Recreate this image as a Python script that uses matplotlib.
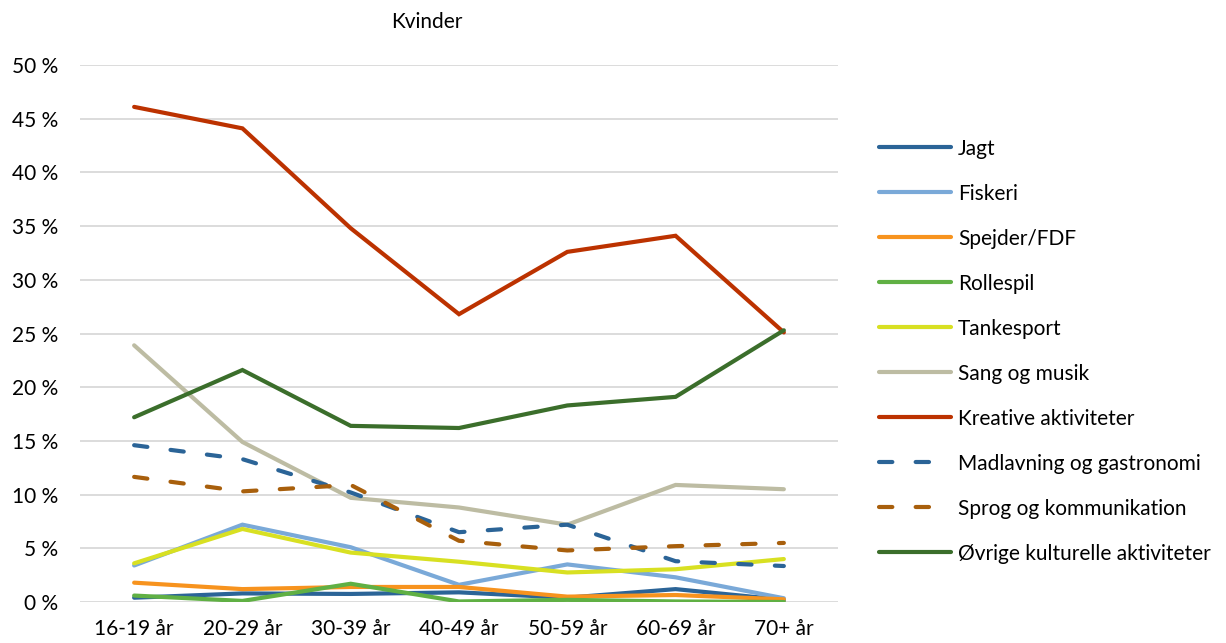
import matplotlib.pyplot as plt
import numpy as np

plt.rcParams['font.family'] = ['Lato', 'DejaVu Sans']

ages = ['16-19 år', '20-29 år', '30-39 år', '40-49 år', '50-59 år', '60-69 år', '70+ år']

jagt = [0.4, 0.8, 0.75, 0.9, 0.4, 1.2, 0.2]
fiskeri = [3.4, 7.2, 5.1, 1.6, 3.5, 2.3, 0.35]
spejder = [1.8, 1.2, 1.4, 1.4, 0.5, 0.65, 0.25]
rollespil = [0.6, 0.1, 1.7, 0.05, 0.2, 0.05, 0.0]
tankesport = [3.6, 6.8, 4.6, 3.75, 2.75, 3.05, 4.0]
sang = [23.9, 14.9, 9.7, 8.8, 7.2, 10.9, 10.5]
kreative = [46.1, 44.1, 34.8, 26.8, 32.6, 34.1, 25.1]
madlavning = [14.6, 13.3, 10.2, 6.5, 7.2, 3.8, 3.35]
sprog = [11.65, 10.3, 10.9, 5.7, 4.8, 5.2, 5.5]
ovrige = [17.2, 21.6, 16.4, 16.2, 18.3, 19.1, 25.3]

series = [
    ('Jagt', jagt, '#2B6497', '-'),
    ('Fiskeri', fiskeri, '#7AA9D8', '-'),
    ('Spejder/FDF', spejder, '#F7931E', '-'),
    ('Rollespil', rollespil, '#60B044', '-'),
    ('Tankesport', tankesport, '#D8E022', '-'),
    ('Sang og musik', sang, '#BDBCA3', '-'),
    ('Kreative aktiviteter', kreative, '#BC3200', '-'),
    ('Madlavning og gastronomi', madlavning, '#2B6497', '--'),
    ('Sprog og kommunikation', sprog, '#A85F0C', '--'),
    ('Øvrige kulturelle aktiviteter', ovrige, '#3B6E2B', '-'),
]

fig = plt.figure(figsize=(12.26, 6.43), dpi=100)
ax = fig.add_axes([80/1226, 1-602/643, (838-80)/1226, (602-65)/643])

x = np.arange(len(ages))
for i, (name, vals, col, ls) in enumerate(series):
    line, = ax.plot(x, vals, color=col, lw=3.0, label=name, zorder=3+i,
                    solid_capstyle='round', solid_joinstyle='miter')
    if ls == '--':
        line.set_dashes([3.2, 5.6])
        line.set_dash_capstyle('round')

ax.set_xlim(-0.5, 6.5)
ax.set_ylim(0, 50)
ax.set_yticks(np.arange(0, 51, 5))
ax.set_yticklabels([f'{v} %' for v in range(0, 51, 5)])
ax.set_xticks(x)
ax.set_xticklabels(ages)
ax.tick_params(length=0, labelsize=15, colors='#000000')
ax.tick_params(axis='y', pad=16)
ax.tick_params(axis='x', pad=12)
ax.grid(axis='y', color='#D9D9D9', lw=1.3, zorder=0)
for s in ax.spines.values():
    s.set_visible(False)

fig.text(427/1226, 1-22/643, 'Kvinder', ha='center', va='center', fontsize=15)

fig.legend(loc='upper left', bbox_to_anchor=(860/1226, 1-120/643), frameon=False,
           fontsize=15, handlelength=3.45, handletextpad=0.35, labelspacing=1.2)

fig.savefig('out.png', dpi=100)
